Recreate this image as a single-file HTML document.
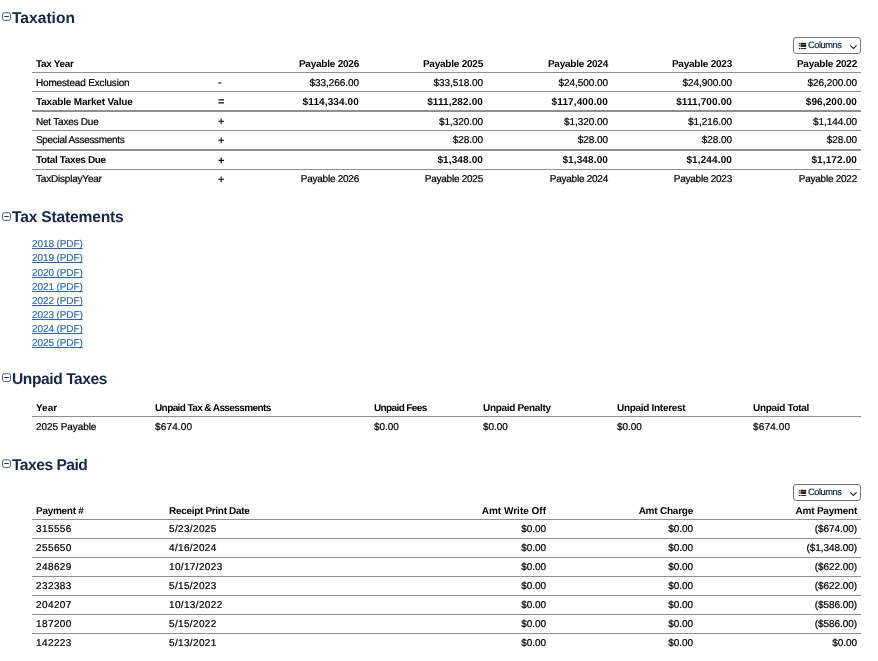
<!DOCTYPE html>
<html><head><meta charset="utf-8"><title>Taxation</title>
<style>
html,body{margin:0;padding:0;background:#fff;}
body{text-rendering:geometricPrecision;width:878px;height:661px;overflow:hidden;position:relative;font-family:"Liberation Sans",sans-serif;font-size:10px;color:#000;}
h2{position:absolute;left:12px;margin:0;font-size:15.6px;line-height:18px;font-weight:bold;color:#16264b;white-space:nowrap;}
.tog{position:absolute;left:2px;width:10px;height:10px;overflow:visible;}
table{position:absolute;left:32px;width:829px;border-collapse:collapse;table-layout:fixed;}
td,th{padding:2px 4px 0 4px;height:16px;border-bottom:1px solid #8f8f8f;text-align:left;font-weight:normal;white-space:nowrap;overflow:hidden;vertical-align:middle;letter-spacing:-0.25px;-webkit-text-stroke:0.22px #000;}
th{font-weight:bold;letter-spacing:-0.32px;-webkit-text-stroke:0}
th.r{letter-spacing:-0.23px}
tr.b td{font-weight:bold;letter-spacing:-0.32px;-webkit-text-stroke:0}
tr.b td.n{letter-spacing:0.12px}
tr.k td{border-bottom:2px solid #8f8f8f;}
tr.u td{padding-top:1px;height:17px;}
td.n{letter-spacing:-0.05px;}
tr.last td{border-bottom:none;}
.r{text-align:right;}
.op{font-size:11px;line-height:10px;}
.btn{position:absolute;left:793px;width:66px;height:15px;border:1px solid #6f7680;border-radius:3px;background:#fff;color:#14264d;font-size:9.3px;letter-spacing:-0.45px;line-height:15px;}
.btn span{position:absolute;left:14px;top:0;-webkit-text-stroke:0.2px #14264d;}
.btn svg{position:absolute;left:0;top:0;}
.links{position:absolute;left:32px;top:238px;line-height:14px;letter-spacing:-0.1px;}
.links a{position:absolute;left:0;white-space:nowrap;color:#2d66a3;text-decoration:underline;text-decoration-skip-ink:none;text-decoration-thickness:1px;display:block;-webkit-text-stroke:0.15px #2d66a3;}
</style></head><body>
<svg class="tog" style="top:12px" viewBox="0 0 10 10"><rect x="0.5" y="0.8" width="8" height="7.6" rx="1.8" fill="#fff" stroke="#3c4a66" stroke-width="0.9"/><line x1="2.2" y1="4.5" x2="6.8" y2="4.5" stroke="#26344f" stroke-width="1"/></svg><h2 style="top:10px;letter-spacing:0px">Taxation</h2>
<div class="btn" style="top:37px"><svg width="66" height="15" viewBox="0 0 66 15"><g fill="#1a1a1a"><rect x="4.8" y="5.2" width="1.2" height="1.1"/><rect x="4.8" y="7.4" width="1.2" height="1.1"/><rect x="4.8" y="10" width="1.2" height="1"/><rect x="6.5" y="4.8" width="5.7" height="1.9"/><rect x="6.5" y="7" width="5.7" height="1.9"/><rect x="6.5" y="10.1" width="5.7" height="0.9"/></g><path d="M56.2 7.3 L59.4 10.5 L62.6 7.3" fill="none" stroke="#2b2b2b" stroke-width="1.15"/></svg><span>Columns</span></div>
<table style="top:54px"><colgroup><col style="width:182px"><col style="width:25px"><col style="width:124px"><col style="width:124px"><col style="width:125px"><col style="width:124px"><col style="width:125px"></colgroup><tr><th>Tax Year</th><th></th><th class="r">Payable 2026</th><th class="r">Payable 2025</th><th class="r">Payable 2024</th><th class="r">Payable 2023</th><th class="r">Payable 2022</th></tr><tr><td style="letter-spacing:-0.17px">Homestead Exclusion</td><td class="op">-</td><td class="r n">$33,266.00</td><td class="r n">$33,518.00</td><td class="r n">$24,500.00</td><td class="r n">$24,900.00</td><td class="r n">$26,200.00</td></tr><tr class="b k"><td style="letter-spacing:-0.19px">Taxable Market Value</td><td class="op">=</td><td class="r n">$114,334.00</td><td class="r n">$111,282.00</td><td class="r n">$117,400.00</td><td class="r n">$111,700.00</td><td class="r n">$96,200.00</td></tr><tr><td style="letter-spacing:-0.22px">Net Taxes Due</td><td class="op">+</td><td class="r n"></td><td class="r n">$1,320.00</td><td class="r n">$1,320.00</td><td class="r n">$1,216.00</td><td class="r n">$1,144.00</td></tr><tr class="k u"><td style="letter-spacing:-0.32px">Special Assessments</td><td class="op">+</td><td class="r n"></td><td class="r n">$28.00</td><td class="r n">$28.00</td><td class="r n">$28.00</td><td class="r n">$28.00</td></tr><tr class="b u"><td style="letter-spacing:-0.36px">Total Taxes Due</td><td class="op">+</td><td class="r n"></td><td class="r n">$1,348.00</td><td class="r n">$1,348.00</td><td class="r n">$1,244.00</td><td class="r n">$1,172.00</td></tr><tr class="last u"><td style="letter-spacing:-0.2px">TaxDisplayYear</td><td class="op">+</td><td class="r">Payable 2026</td><td class="r">Payable 2025</td><td class="r">Payable 2024</td><td class="r">Payable 2023</td><td class="r">Payable 2022</td></tr></table>
<svg class="tog" style="top:212px" viewBox="0 0 10 10"><rect x="0.5" y="0.8" width="8" height="7.6" rx="1.8" fill="#fff" stroke="#3c4a66" stroke-width="0.9"/><line x1="2.2" y1="4.5" x2="6.8" y2="4.5" stroke="#26344f" stroke-width="1"/></svg><h2 style="top:209px;letter-spacing:-0.18px">Tax Statements</h2>
<div class="links"><a style="top:0px">2018 (PDF)</a><a style="top:14px">2019 (PDF)</a><a style="top:29px">2020 (PDF)</a><a style="top:43px">2021 (PDF)</a><a style="top:57px">2022 (PDF)</a><a style="top:71px">2023 (PDF)</a><a style="top:85px">2024 (PDF)</a><a style="top:99px">2025 (PDF)</a></div>
<svg class="tog" style="top:373px" viewBox="0 0 10 10"><rect x="0.5" y="0.8" width="8" height="7.6" rx="1.8" fill="#fff" stroke="#3c4a66" stroke-width="0.9"/><line x1="2.2" y1="4.5" x2="6.8" y2="4.5" stroke="#26344f" stroke-width="1"/></svg><h2 style="top:371px;letter-spacing:-0.43px">Unpaid Taxes</h2>
<table style="top:398px"><colgroup><col style="width:119px"><col style="width:219px"><col style="width:109px"><col style="width:134px"><col style="width:136px"><col style="width:112px"></colgroup><tr><th style="letter-spacing:0px">Year</th><th style="letter-spacing:-0.6px">Unpaid Tax &amp; Assessments</th><th style="letter-spacing:-0.62px">Unpaid Fees</th><th style="letter-spacing:-0.32px">Unpaid Penalty</th><th style="letter-spacing:-0.3px">Unpaid Interest</th><th style="letter-spacing:-0.32px">Unpaid Total</th></tr><tr class="last"><td style="letter-spacing:-0.07px">2025 Payable</td><td class="n" style="letter-spacing:0.15px">$674.00</td><td class="n">$0.00</td><td class="n">$0.00</td><td class="n">$0.00</td><td class="n" style="letter-spacing:0.15px">$674.00</td></tr></table>
<svg class="tog" style="top:459px" viewBox="0 0 10 10"><rect x="0.5" y="0.8" width="8" height="7.6" rx="1.8" fill="#fff" stroke="#3c4a66" stroke-width="0.9"/><line x1="2.2" y1="4.5" x2="6.8" y2="4.5" stroke="#26344f" stroke-width="1"/></svg><h2 style="top:457px;letter-spacing:-0.5px">Taxes Paid</h2>
<div class="btn" style="top:484px"><svg width="66" height="15" viewBox="0 0 66 15"><g fill="#1a1a1a"><rect x="4.8" y="5.2" width="1.2" height="1.1"/><rect x="4.8" y="7.4" width="1.2" height="1.1"/><rect x="4.8" y="10" width="1.2" height="1"/><rect x="6.5" y="4.8" width="5.7" height="1.9"/><rect x="6.5" y="7" width="5.7" height="1.9"/><rect x="6.5" y="10.1" width="5.7" height="0.9"/></g><path d="M56.2 7.3 L59.4 10.5 L62.6 7.3" fill="none" stroke="#2b2b2b" stroke-width="1.15"/></svg><span>Columns</span></div>
<table style="top:501px"><colgroup><col style="width:133px"><col style="width:236px"><col style="width:149px"><col style="width:147px"><col style="width:164px"></colgroup><tr><th style="letter-spacing:-0.28px">Payment #</th><th style="letter-spacing:-0.31px">Receipt Print Date</th><th class="r" style="letter-spacing:0px">Amt Write Off</th><th class="r">Amt Charge</th><th class="r">Amt Payment</th></tr><tr class="u"><td class="n" style="letter-spacing:0.4px">315556</td><td class="n" style="letter-spacing:0.35px">5/23/2025</td><td class="r n">$0.00</td><td class="r n">$0.00</td><td class="r n">($674.00)</td></tr><tr class="u"><td class="n" style="letter-spacing:0.4px">255650</td><td class="n" style="letter-spacing:0.35px">4/16/2024</td><td class="r n">$0.00</td><td class="r n">$0.00</td><td class="r n">($1,348.00)</td></tr><tr class="u"><td class="n" style="letter-spacing:0.4px">248629</td><td class="n" style="letter-spacing:0.35px">10/17/2023</td><td class="r n">$0.00</td><td class="r n">$0.00</td><td class="r n">($622.00)</td></tr><tr class="u"><td class="n" style="letter-spacing:0.4px">232383</td><td class="n" style="letter-spacing:0.35px">5/15/2023</td><td class="r n">$0.00</td><td class="r n">$0.00</td><td class="r n">($622.00)</td></tr><tr class="u"><td class="n" style="letter-spacing:0.4px">204207</td><td class="n" style="letter-spacing:0.35px">10/13/2022</td><td class="r n">$0.00</td><td class="r n">$0.00</td><td class="r n">($586.00)</td></tr><tr class="u"><td class="n" style="letter-spacing:0.4px">187200</td><td class="n" style="letter-spacing:0.35px">5/15/2022</td><td class="r n">$0.00</td><td class="r n">$0.00</td><td class="r n">($586.00)</td></tr><tr class="u last"><td class="n" style="letter-spacing:0.4px">142223</td><td class="n" style="letter-spacing:0.35px">5/13/2021</td><td class="r n">$0.00</td><td class="r n">$0.00</td><td class="r n">$0.00</td></tr></table>
</body></html>
